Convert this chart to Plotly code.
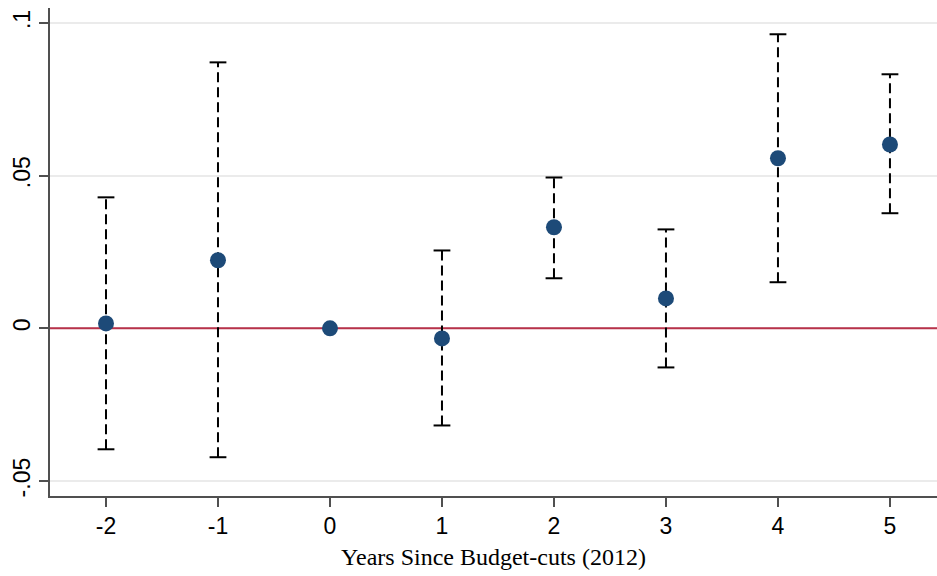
import plotly.graph_objects as go

# Event-study estimates relative to the 2012 budget cuts
years = [-2, -1, 0, 1, 2, 3, 4, 5]
coef = [0.0016, 0.0223, 0.0, -0.0033, 0.0331, 0.0098, 0.0557, 0.0602]
ci_low = [-0.0396, -0.0422, None, -0.0318, 0.0164, -0.0128, 0.0151, 0.0377]
ci_high = [0.0429, 0.0871, None, 0.0255, 0.0494, 0.0324, 0.0963, 0.0832]

y_tickvals = [-0.05, 0, 0.05, 0.1]
y_ticktext = ["-.05", "0", ".05", ".1"]
x_title = "Years Since Budget-cuts (2012)"

X_RANGE = [-2.5, 5.42]
Y_RANGE = [-0.0549, 0.1049]

NAVY = "#1d4a78"
AXIS = "#505050"

fig = go.Figure()

# reference line at zero across the full plot width
fig.add_trace(go.Scatter(
    x=X_RANGE, y=[0, 0], mode="lines",
    line=dict(color="#b8324a", width=2),
    showlegend=False, hoverinfo="skip", cliponaxis=False))

# dashed confidence intervals with flat caps
for x, lo, hi in zip(years, ci_low, ci_high):
    if lo is None:
        continue
    fig.add_trace(go.Scatter(
        x=[x, x], y=[lo, hi], mode="lines",
        line=dict(color="black", width=2, dash="10px,5px"),
        showlegend=False, hoverinfo="skip"))
    fig.add_trace(go.Scatter(
        x=[x, x], y=[lo, hi], mode="markers",
        marker=dict(symbol="line-ew", size=12,
                    line=dict(color="black", width=2)),
        showlegend=False, hoverinfo="skip"))

# point estimates
fig.add_trace(go.Scatter(
    x=years, y=coef, mode="markers",
    marker=dict(color=NAVY, size=16, line=dict(width=0)),
    showlegend=False))

fig.update_layout(
    width=937, height=576,
    margin=dict(l=50, r=0, t=8, b=80),
    paper_bgcolor="white", plot_bgcolor="white",
    font=dict(family="Helvetica, Arial, Liberation Sans", size=23, color="black"),
)

fig.update_xaxes(
    range=X_RANGE, tickvals=years, ticktext=[str(v) for v in years],
    showgrid=False, zeroline=False,
    showline=True, linecolor=AXIS, linewidth=1.5,
    ticks="outside", ticklen=9, tickwidth=1.5, tickcolor=AXIS,
    tickfont=dict(size=23),
    title=dict(text=x_title, standoff=10,
               font=dict(family="Times New Roman, Liberation Serif, serif", size=24)),
)
fig.update_yaxes(
    range=Y_RANGE, tickvals=y_tickvals, ticktext=y_ticktext,
    tickangle=-90,
    showgrid=True, gridcolor="#ebebeb", gridwidth=1.5, zeroline=False,
    showline=True, linecolor=AXIS, linewidth=1.5,
    ticks="outside", ticklen=9, tickwidth=1.5, tickcolor=AXIS,
    tickfont=dict(size=23),
)

fig.write_html("out.html")
